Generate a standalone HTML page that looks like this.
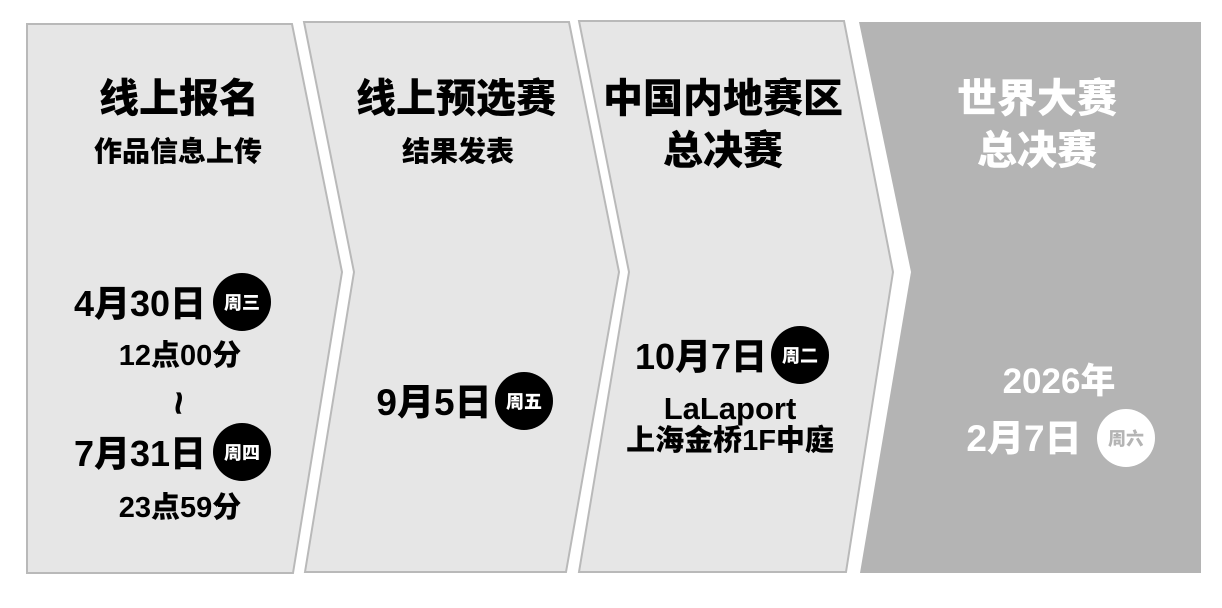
<!DOCTYPE html>
<html><head><meta charset="utf-8"><style>
html,body{margin:0;padding:0;background:#fff;}
svg{display:block;}
text{font-family:"Liberation Sans","Noto Sans CJK SC",sans-serif;font-weight:900;text-anchor:middle;}
</style></head><body>
<svg width="1222" height="608" viewBox="0 0 1222 608" xmlns="http://www.w3.org/2000/svg">
<g fill="#e6e6e6" stroke="#b9b9b9" stroke-width="2">
<polygon points="27,24 292,24 342,272 293,573 27,573"/>
<polygon points="304,22 569,22 619,272 566,572 305,572 354,272"/>
<polygon points="579,21 844,21 893,272 846,572 579,572 629,272"/>
</g>
<polygon points="859,22 1201,22 1201,573 860,573 911,272" fill="#b4b4b4"/>

<g fill="#000">
<text x="179" y="112" font-size="40">线上报名</text>
<text x="178" y="161" font-size="28">作品信息上传</text>
<text x="456" y="112" font-size="40">线上预选赛</text>
<text x="458" y="161" font-size="28">结果发表</text>
<text x="723" y="112" font-size="40">中国内地赛区</text>
<text x="723" y="164" font-size="40">总决赛</text>

<text x="140" y="316" font-size="36">4月30日</text>
<text x="180" y="365" font-size="29">12点00分</text>
<text x="178" y="416" font-size="42" transform="rotate(90 178 403)">~</text>
<text x="140" y="466" font-size="36">7月31日</text>
<text x="180" y="517" font-size="29">23点59分</text>

<text x="434" y="415" font-size="37">9月5日</text>

<text x="701" y="369" font-size="36">10月7日</text>
<text x="730" y="419" font-size="31">LaLaport</text>
<text x="730" y="450" font-size="29">上海金桥1F中庭</text>
</g>
<circle cx="242" cy="302" r="29" fill="#000"/>
<circle cx="242" cy="452" r="29" fill="#000"/>
<circle cx="524" cy="401" r="29" fill="#000"/>
<circle cx="800" cy="355" r="29" fill="#000"/>
<circle cx="1126" cy="438" r="29" fill="#fff"/>
<g fill="#fff">
<text x="242" y="309" font-size="18">周三</text>
<text x="242" y="459" font-size="18">周四</text>
<text x="524" y="408" font-size="18">周五</text>
<text x="800" y="362" font-size="18">周二</text>
</g>
<text x="1126" y="445" font-size="18" fill="#b4b4b4">周六</text>
<g fill="#fff">
<text x="1037" y="112" font-size="40">世界大赛</text>
<text x="1037" y="164" font-size="40">总决赛</text>
<text x="1059" y="393" font-size="35">2026年</text>
<text x="1024" y="451" font-size="37">2月7日</text>
</g>
</svg>
</body></html>
